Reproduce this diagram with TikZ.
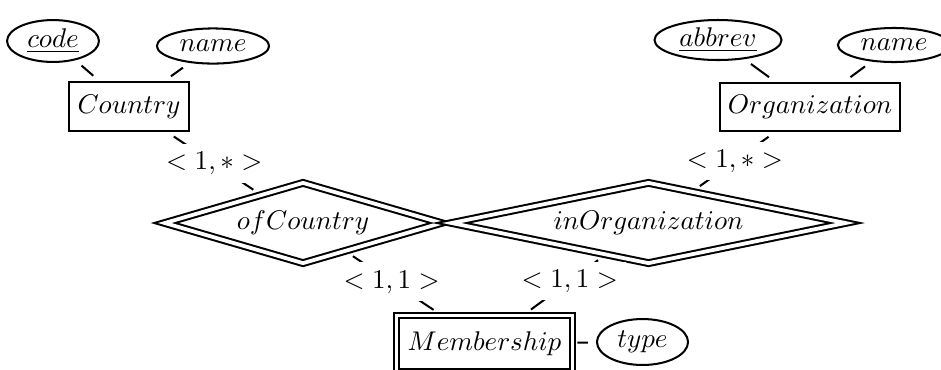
\documentclass[tikz,border=0pt]{standalone}
\usetikzlibrary{shapes.geometric,calc}
\begin{document}
\begin{tikzpicture}[x=0.37pt,y=-0.37pt,
  entity/.style={draw,rectangle,line width=0.75pt,inner sep=0pt},
  weakentity/.style={entity,double,double distance=1.3pt},
  attr/.style={draw,ellipse,line width=0.75pt,inner sep=0pt},
  rel/.style={draw,diamond,line width=0.75pt,double,double distance=1.4pt,inner sep=0pt},
  link/.style={line width=0.75pt,shorten >=3pt,shorten <=3pt},
  card/.style={fill=white,inner sep=3pt}]
\useasboundingbox (0,0) rectangle (941,369);
% entities
\node[entity,minimum width=44.4pt,minimum height=18.1pt] (country) at (129,106.5) {$Country$};
\node[entity,minimum width=66.6pt,minimum height=17.8pt] (org) at (810,107) {$Organization$};
\node[weakentity,minimum width=65pt,minimum height=21pt] (memb) at (484.5,343.75) {$Membership$};
% attributes
\node[attr,minimum width=34pt,minimum height=15.5pt] (code) at (53,41) {$\underline{code}$};
\node[attr,minimum width=41.5pt,minimum height=13pt] (cname) at (213,46) {$name$};
\node[attr,minimum width=47pt,minimum height=14.8pt] (abbrev) at (718,40) {$\underline{abbrev}$};
\node[attr,minimum width=41.5pt,minimum height=12.6pt] (oname) at (894,45) {$name$};
\node[attr,minimum width=33.7pt,minimum height=17pt] (type) at (642.5,342) {$type$};
% relationships
\node[rel,aspect=3.42,minimum width=102.6pt,minimum height=30pt] (ofc) at (303,223) {$ofCountry$};
\node[rel,aspect=4.87,minimum width=146pt,minimum height=30pt] (ino) at (648.5,223) {$inOrganization$};
% attribute links
\draw[link] (code) -- (country);
\draw[link] (cname) -- (country);
\draw[link] (abbrev) -- (org);
\draw[link] (oname) -- (org);
\draw[link,shorten <=1.5pt,shorten >=3pt] (memb) -- (type);
% relationship links
\draw[link] (country) -- (ofc);
\draw[link] (org) -- (ino);
\draw[link] (ofc) -- (memb);
\draw[link] (ino) -- (memb);
% cardinalities
\node[card] (c1) at ($(country.center)!0.49!(ofc.center)$) {$<1,*>$};
\node[card] (c2) at ($(org.center)!0.465!(ino.center)$) {$<1,*>$};
\node[card] (c3) at ($(ofc.center)!0.488!(memb.center)$) {$<1,1>$};
\node[card] (c4) at ($(ino.center)!0.48!(memb.center)$) {$<1,1>$};
\end{tikzpicture}
\end{document}
